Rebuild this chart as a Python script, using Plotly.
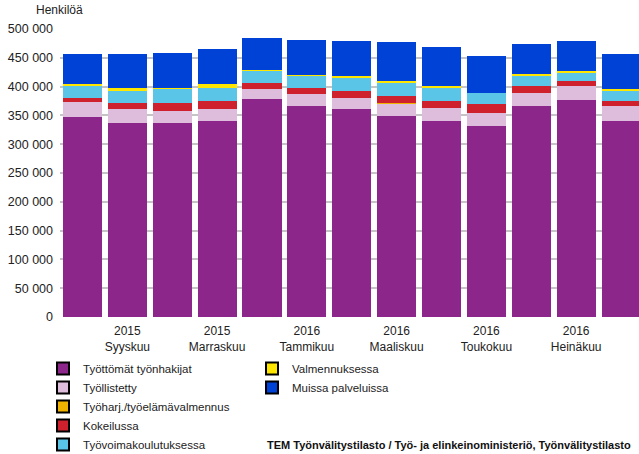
import plotly.graph_objects as go

months = ["2015 Elokuu", "2015 Syyskuu", "2015 Lokakuu", "2015 Marraskuu", "2015 Joulukuu",
          "2016 Tammikuu", "2016 Helmikuu", "2016 Maaliskuu", "2016 Huhtikuu", "2016 Toukokuu",
          "2016 Kesäkuu", "2016 Heinäkuu", "2016 Elokuu"]

tyottomat = [347200, 336800, 336800, 340300, 378500, 366300, 361100, 349000, 340300, 331600, 366300, 376700, 340300]
tyollistetty = [26100, 24300, 20800, 20800, 17300, 20900, 19100, 20800, 22500, 22600, 22600, 24300, 26000]
tyoharj = [0, 0, 0, 0, 0, 0, 0, 1700, 0, 0, 0, 0, 0]
kokeilussa = [6900, 10400, 13900, 13900, 10500, 10400, 12200, 12200, 12200, 15600, 12100, 8700, 8700]
koulutus = [20800, 20900, 24800, 22600, 21300, 20800, 22500, 23100, 22600, 19100, 17400, 15600, 17400]
valmennus = [3500, 5200, 1200, 6900, 1200, 1700, 3500, 2900, 3400, 0, 3500, 1800, 3400]
muissa = [52100, 59000, 60700, 60800, 55600, 60800, 60800, 67700, 67800, 64200, 52100, 52100, 60800]

series_names = ["Työttömät työnhakijat", "Työllistetty", "Työharj./työelämävalmennus",
                "Kokeilussa", "Työvoimakoulutuksessa", "Valmennuksessa", "Muissa palveluissa"]
series_values = [tyottomat, tyollistetty, tyoharj, kokeilussa, koulutus, valmennus, muissa]
colors = ["#8D268B", "#DEBCDC", "#F0B400", "#CE202D", "#5BC5E8", "#FFE600", "#0041D6"]
legend_ids = ["legend", "legend", "legend", "legend", "legend", "legend2", "legend2"]

y_tickvals = [0, 50000, 100000, 150000, 200000, 250000, 300000, 350000, 400000, 450000, 500000]
y_ticktext = ["0", "50 000", "100 000", "150 000", "200 000", "250 000", "300 000",
              "350 000", "400 000", "450 000", "500 000"]
x_tickvals = months[1::2]
x_ticktext = ["2015<br>Syyskuu", "2015<br>Marraskuu", "2016<br>Tammikuu",
              "2016<br>Maaliskuu", "2016<br>Toukokuu", "2016<br>Heinäkuu"]

fig = go.Figure()
for name, vals, col in zip(series_names, series_values, colors):
    fig.add_trace(go.Bar(x=months, y=vals, name=name, marker=dict(color=col, line=dict(width=0)),
                         showlegend=False, legendgroup=name))
# legend entries with black outline
for name, col, lg in zip(series_names, colors, legend_ids):
    fig.add_trace(go.Bar(x=[months[0]], y=[None], name=name, legendgroup=name, legend=lg,
                         marker=dict(color=col, line=dict(color="black", width=2)),
                         showlegend=True, hoverinfo="skip"))

font = "Liberation Sans, Arial, sans-serif"
W, H = 639, 454
L, R, T, B = 60, 0, 29, 137
PW, PH = W - L - R, H - T - B

fig.update_layout(
    width=W, height=H, barmode="stack", bargap=0.13,
    margin=dict(l=L, r=R, t=T, b=B, autoexpand=False),
    paper_bgcolor="white", plot_bgcolor="white",
    font=dict(family=font, size=12, color="#222222"),
    xaxis=dict(type="category", categoryorder="array", categoryarray=months,
               range=[-0.5, 12.4], tickmode="array", tickvals=x_tickvals, ticktext=x_ticktext,
               showgrid=False, showline=False, ticks="", zeroline=False, ticklabelstandoff=5,
               tickfont=dict(size=12, family=font, color="#222222")),
    yaxis=dict(range=[0, 500000], tickmode="array", tickvals=y_tickvals, ticktext=y_ticktext,
               showgrid=True, gridcolor="#C4C4C4", gridwidth=2, zeroline=False,
               showline=False, ticks="", ticklabelstandoff=6,
               tickfont=dict(size=12.5, family=font, color="#222222")),
    legend=dict(x=(43 - L) / PW, y=(317 - 354) / PH, xanchor="left", yanchor="top", orientation="v",
                traceorder="normal", font=dict(size=11.5, family=font, color="#222222"),
                bgcolor="rgba(0,0,0,0)", itemclick=False, tracegroupgap=0),
    legend2=dict(x=(252 - L) / PW, y=(317 - 354) / PH, xanchor="left", yanchor="top", orientation="v",
                 traceorder="normal", font=dict(size=11.5, family=font, color="#222222"),
                 bgcolor="rgba(0,0,0,0)", itemclick=False, tracegroupgap=0),
    annotations=[
        dict(text="Henkilöä", xref="paper", yref="paper", x=(34 - L) / PW, y=(317 - 10) / PH,
             xanchor="left", yanchor="middle", showarrow=False,
             font=dict(size=12, family=font, color="#222222")),
        dict(text="<b>TEM Työnvälitystilasto / Työ- ja elinkeinoministeriö, Työnvälitystilasto</b>",
             xref="paper", yref="paper", x=(633 - L) / PW, y=(317 - 445) / PH,
             xanchor="right", yanchor="middle", showarrow=False,
             font=dict(size=11, family=font, color="#111111")),
    ],
)

fig.write_html("out.html", config={"displayModeBar": False},
               post_script="document.body.style.margin='0';document.body.style.overflow='hidden';")
